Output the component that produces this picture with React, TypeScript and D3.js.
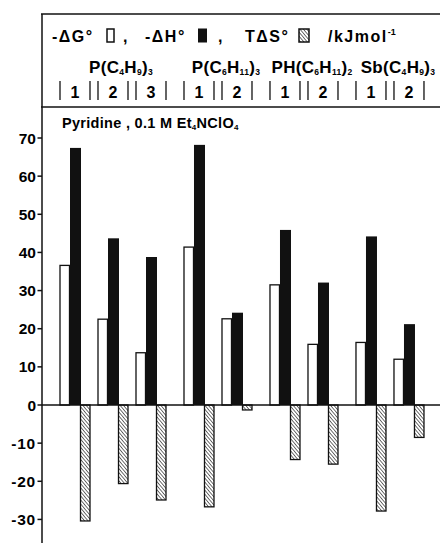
import { useEffect, useRef } from "react";
import * as d3 from "d3";

// -ΔG°, -ΔH°, TΔS° in kJ/mol for each ligand / run
const runLabels = ["1", "2", "3", "1", "2", "1", "2", "1", "2"];
const runGroup = [0, 0, 0, 1, 1, 2, 2, 3, 3];
const dG = [36.6, 22.5, 13.7, 41.4, 22.6, 31.5, 15.9, 16.4, 12.0];
const dH = [67.4, 43.7, 38.8, 68.2, 24.2, 45.9, 32.1, 44.2, 21.2];
const TdS = [-30.4, -20.6, -24.9, -26.7, -1.3, -14.3, -15.5, -27.8, -8.5];
const yTicks = [-30, -20, -10, 0, 10, 20, 30, 40, 50, 60, 70];

// compound names as [text, subscript?] pieces
const compounds: [string, boolean][][] = [
  [["P(C", false], ["4", true], ["H", false], ["9", true], [")", false], ["3", true]],
  [["P(C", false], ["6", true], ["H", false], ["11", true], [")", false], ["3", true]],
  [["PH(C", false], ["6", true], ["H", false], ["11", true], [")", false], ["2", true]],
  [["Sb(C", false], ["4", true], ["H", false], ["9", true], [")", false], ["3", true]],
];

const FONT = "'Liberation Sans', Arial, Helvetica, sans-serif";

export default function App() {
  const svgRef = useRef<SVGSVGElement>(null);

  useEffect(() => {
    if (!svgRef.current) return;
    const svg = d3.select(svgRef.current);
    svg.selectAll("*").remove();
    svg.attr("font-family", FONT).attr("font-weight", "bold");

    // hatch pattern
    const pat = svg
      .append("defs")
      .append("pattern")
      .attr("id", "hatch")
      .attr("patternUnits", "userSpaceOnUse")
      .attr("width", 2.6)
      .attr("height", 2.6)
      .attr("patternTransform", "rotate(-40)");
    pat.append("rect").attr("width", 2.6).attr("height", 2.6).attr("fill", "#fff");
    pat
      .append("line")
      .attr("x1", 0)
      .attr("y1", 0)
      .attr("x2", 0)
      .attr("y2", 2.6)
      .attr("stroke", "#222")
      .attr("stroke-width", 1.3);

    const axisX = 42;
    const y = d3.scaleLinear().domain([0, 70]).range([405, 138]);
    const slotPos = (i: number) => i + 0.263 * runGroup[i];
    const x = d3.scaleLinear().domain([0, 1]).range([60, 98]);

    // frame
    svg.append("line").attr("x1", 41).attr("x2", 440).attr("y1", 14).attr("y2", 14).attr("stroke", "#111").attr("stroke-width", 1.5);
    svg.append("line").attr("x1", 41).attr("x2", 440).attr("y1", 107).attr("y2", 107).attr("stroke", "#111").attr("stroke-width", 1.5);
    svg.append("line").attr("x1", axisX).attr("x2", axisX).attr("y1", 14).attr("y2", 543).attr("stroke", "#111").attr("stroke-width", 1.5);

    // legend row
    const legY = 42;
    const leg = svg.append("g").attr("font-size", 16).attr("letter-spacing", 1.5);
    leg.append("text").attr("x", 52).attr("y", legY).text("-ΔG°");
    leg.append("rect").attr("x", 107).attr("y", 29).attr("width", 7).attr("height", 13).attr("fill", "#fff").attr("stroke", "#111").attr("stroke-width", 1.5);
    leg.append("text").attr("x", 123).attr("y", legY).text(",");
    leg.append("text").attr("x", 145).attr("y", legY).text("-ΔH°");
    leg.append("rect").attr("x", 198).attr("y", 28.5).attr("width", 9).attr("height", 14).attr("fill", "#111");
    leg.append("text").attr("x", 218).attr("y", legY).text(",");
    leg.append("text").attr("x", 245).attr("y", legY).text("TΔS°");
    leg.append("rect").attr("x", 299).attr("y", 29).attr("width", 10).attr("height", 13).attr("fill", "url(#hatch)").attr("stroke", "#111").attr("stroke-width", 1.5);
    const unit = leg.append("text").attr("x", 328).attr("y", legY);
    unit.append("tspan").text("/kJmol");
    unit.append("tspan").attr("font-size", 9).attr("dy", -7).attr("letter-spacing", 0).text("-1");

    // compound names
    const groupStart = [0, 3, 5, 7].map((i) => x(slotPos(i)));
    const groupEnd = [2, 4, 6, 8].map((i) => x(slotPos(i)) + 30);
    compounds.forEach((parts, g) => {
      const t = svg
        .append("text")
        .attr("x", (groupStart[g] + groupEnd[g]) / 2 + 8)
        .attr("y", 73)
        .attr("text-anchor", "middle")
        .attr("font-size", 17)
        .attr("letter-spacing", 0.3);
      let prevSub = false;
      parts.forEach(([s, sub]) => {
        const dy = sub && !prevSub ? 2 : !sub && prevSub ? -2 : 0;
        t.append("tspan").attr("font-size", sub ? 8.5 : 17).attr("dy", dy).text(s);
        prevSub = sub;
      });
    });

    // run brackets
    runLabels.forEach((lab, i) => {
      const x0 = x(slotPos(i));
      [x0, x0 + 30].forEach((lx) =>
        svg.append("line").attr("x1", lx).attr("x2", lx).attr("y1", 81).attr("y2", 100).attr("stroke", "#111").attr("stroke-width", 1.3)
      );
      svg.append("text").attr("x", x0 + 15).attr("y", 98).attr("text-anchor", "middle").attr("font-size", 16).text(lab);
    });

    // subtitle
    const sub = svg.append("text").attr("x", 62).attr("y", 128).attr("font-size", 14.5).attr("letter-spacing", 0.3);
    sub.append("tspan").text("Pyridine , 0.1 M Et");
    sub.append("tspan").attr("font-size", 8).attr("dy", 2).text("4");
    sub.append("tspan").attr("dy", -2).text("NClO");
    sub.append("tspan").attr("font-size", 8).attr("dy", 2).text("4");

    // y axis
    const ax = svg.append("g").attr("font-size", 15.5);
    yTicks.forEach((v) => {
      ax.append("line").attr("x1", axisX - 4.5).attr("x2", axisX).attr("y1", y(v)).attr("y2", y(v)).attr("stroke", "#111").attr("stroke-width", 1.5);
      ax.append("text")
        .attr("x", 36)
        .attr("y", y(v))
        .attr("dy", "0.36em")
        .attr("text-anchor", "end")
        .attr("letter-spacing", v < 0 ? 0.8 : 0)
        .text(v < 0 ? `-${-v}` : `${v}`);
    });

    // bars
    const bars = svg.append("g");
    dG.forEach((v, i) => {
      const x0 = x(slotPos(i));
      bars.append("rect").attr("x", x0).attr("y", y(v)).attr("width", 9.5).attr("height", y(0) - y(v)).attr("fill", "#fff").attr("stroke", "#111").attr("stroke-width", 1.3);
    });
    dH.forEach((v, i) => {
      const x0 = x(slotPos(i));
      bars.append("rect").attr("x", x0 + 10).attr("y", y(v)).attr("width", 11).attr("height", y(0) - y(v)).attr("fill", "#111");
    });
    TdS.forEach((v, i) => {
      const x0 = x(slotPos(i));
      bars.append("rect").attr("x", x0 + 20.5).attr("y", y(0)).attr("width", 9.5).attr("height", y(v) - y(0)).attr("fill", "url(#hatch)").attr("stroke", "#111").attr("stroke-width", 1.3);
    });

    // zero line
    svg.append("line").attr("x1", axisX).attr("x2", 440).attr("y1", y(0)).attr("y2", y(0)).attr("stroke", "#111").attr("stroke-width", 1.6);
  }, []);

  return (
    <svg
      ref={svgRef}
      width={440}
      height={544}
      style={{ position: "absolute", left: 0, top: 0, background: "#fff" }}
    />
  );
}
